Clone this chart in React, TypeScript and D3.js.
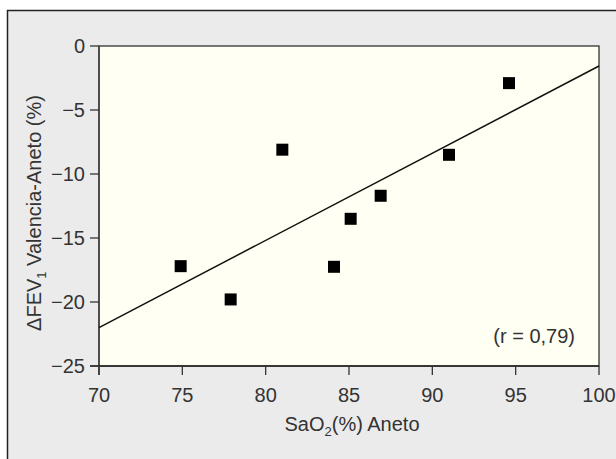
import React from "react";
import { scaleLinear, line } from "d3";

// SaO2 (%) at Aneto vs change in FEV1 (%) Valencia-Aneto
const sao2 = [74.9, 77.9, 81.0, 84.1, 85.1, 86.9, 91.0, 94.6];
const dFev1 = [-17.2, -19.8, -8.1, -17.25, -13.5, -11.7, -8.5, -2.9];

// regression line end points
const fitX = [70, 100];
const fitY = [-22.0, -1.56];

const xTicks = [70, 75, 80, 85, 90, 95, 100];
const yTicks = [0, -5, -10, -15, -20, -25];

const W = 616;
const H = 459;
const margin = { left: 99, top: 46, right: 17, bottom: 93 };

const font = "'Liberation Sans', Arial, Helvetica, sans-serif";
const textColor = "#333";

export default function App() {
  const x = scaleLinear().domain([70, 100]).range([margin.left, W - margin.right]);
  const y = scaleLinear().domain([-25, 0]).range([H - margin.bottom, margin.top]);

  const fitPath = line<number>()
    .x((d) => x(d))
    .y((d, i) => y(fitY[i]))(fitX);

  const sq = 12;
  const x0 = x.range()[0];
  const x1 = x.range()[1];
  const y0 = y.range()[0];
  const y1 = y.range()[1];
  const yMid = (y0 + y1) / 2 + 7;
  const xMid = (x0 + x1) / 2 + 3;

  return (
    <svg
      width={W}
      height={H}
      style={{ position: "absolute", left: 0, top: 0 }}
      fontFamily={font}
    >
      <rect x={7.5} y={10.5} width={700} height={600} fill="#ebebeb" stroke="#222" strokeWidth={1.5} />
      <rect x={x0} y={y1} width={x1 - x0} height={y0 - y1} fill="#fffff3" stroke="#222" strokeWidth={1.2} />

      {/* axes */}
      <line x1={x0} x2={x0} y1={y1} y2={y0 + 9} stroke="#444" strokeWidth={1.6} />
      <line x1={x0 - 9} x2={x1} y1={y0} y2={y0} stroke="#222" strokeWidth={1.4} />

      {yTicks.map((t) => (
        <g key={"y" + t}>
          <line x1={x0 - 9} x2={x0} y1={y(t)} y2={y(t)} stroke="#333" strokeWidth={1.3} />
          <text x={x0 - 14} y={y(t)} dy="0.36em" textAnchor="end" fontSize={20} fill={textColor}>
            {t < 0 ? "\u2212" + Math.abs(t) : t}
          </text>
        </g>
      ))}

      {xTicks.map((t) => (
        <g key={"x" + t}>
          <line x1={x(t)} x2={x(t)} y1={y0} y2={y0 + 9} stroke="#333" strokeWidth={1.3} />
          <text x={x(t)} y={402} textAnchor="middle" fontSize={20} fill={textColor}>
            {t}
          </text>
        </g>
      ))}

      <path d={fitPath || ""} fill="none" stroke="#111" strokeWidth={1.5} />

      {sao2.map((v, i) => (
        <rect
          key={i}
          x={x(v) - sq / 2}
          y={y(dFev1[i]) - sq / 2}
          width={sq}
          height={sq}
          fill="#000"
        />
      ))}

      <text x={575} y={343} textAnchor="end" fontSize={20} fill={textColor}>
        (r = 0,79)
      </text>

      <text x={xMid} y={431} textAnchor="middle" fontSize={20} fill={textColor}>
        SaO
        <tspan fontSize={13} dy={5}>2</tspan>
        <tspan dy={-5}>(%) Aneto</tspan>
      </text>

      <text
        transform={`translate(41,${yMid}) rotate(-90)`}
        textAnchor="middle"
        fontSize={20}
        fill={textColor}
      >
        ΔFEV
        <tspan fontSize={13} dy={5}>1</tspan>
        <tspan dy={-5}> Valencia-Aneto (%)</tspan>
      </text>
    </svg>
  );
}
